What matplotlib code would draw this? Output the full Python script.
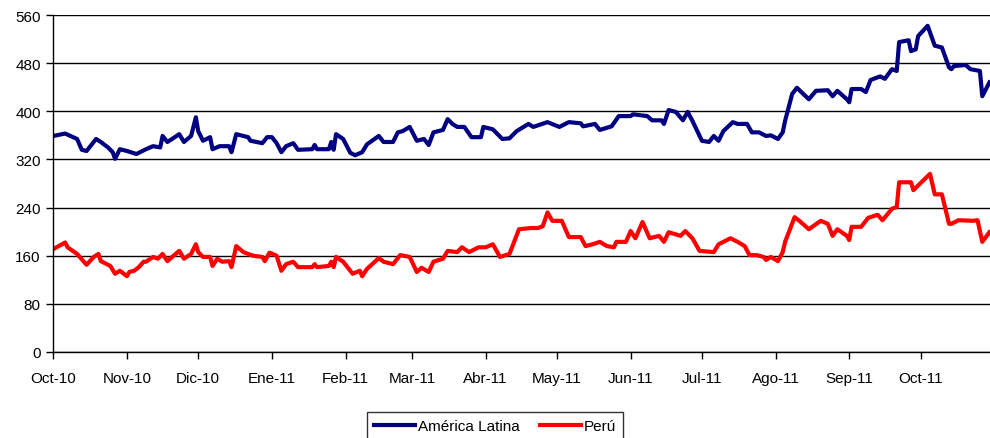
"""EMBI spreads: América Latina vs Perú, Oct-10 to Oct-11."""

import matplotlib

matplotlib.use("Agg")

import matplotlib.dates as mdates
import matplotlib.pyplot as plt
import pandas as pd

plt.rcParams["font.family"] = ["Liberation Sans", "DejaVu Sans"]

month_labels = ["Oct-10", "Nov-10", "Dic-10", "Ene-11", "Feb-11", "Mar-11", "Abr-11",
                "May-11", "Jun-11", "Jul-11", "Ago-11", "Sep-11", "Oct-11"]
y_ticks = [0, 80, 160, 240, 320, 400, 480, 560]

latam_dates = [
    "2010-10-01", "2010-10-06", "2010-10-11", "2010-10-13", "2010-10-15", "2010-10-19",
    "2010-10-21", "2010-10-24", "2010-10-26", "2010-10-27", "2010-10-29", "2010-11-01",
    "2010-11-05", "2010-11-09", "2010-11-12", "2010-11-15", "2010-11-16", "2010-11-18",
    "2010-11-20", "2010-11-23", "2010-11-25", "2010-11-28", "2010-11-30", "2010-12-01",
    "2010-12-03", "2010-12-06", "2010-12-07", "2010-12-10", "2010-12-14", "2010-12-15",
    "2010-12-17", "2010-12-22", "2010-12-23", "2010-12-28", "2010-12-30", "2011-01-01",
    "2011-01-03", "2011-01-05", "2011-01-07", "2011-01-10", "2011-01-12", "2011-01-18",
    "2011-01-19", "2011-01-20", "2011-01-25", "2011-01-26", "2011-01-27", "2011-01-28",
    "2011-01-31", "2011-02-03", "2011-02-05", "2011-02-08", "2011-02-10", "2011-02-15",
    "2011-02-17", "2011-02-21", "2011-02-23", "2011-02-25", "2011-02-28", "2011-03-03",
    "2011-03-06", "2011-03-08", "2011-03-10", "2011-03-14", "2011-03-16", "2011-03-18",
    "2011-03-20", "2011-03-23", "2011-03-26", "2011-03-30", "2011-03-31", "2011-04-04",
    "2011-04-08", "2011-04-11", "2011-04-14", "2011-04-19", "2011-04-21", "2011-04-27",
    "2011-05-02", "2011-05-06", "2011-05-11", "2011-05-12", "2011-05-17", "2011-05-19",
    "2011-05-24", "2011-05-27", "2011-06-01", "2011-06-02", "2011-06-08", "2011-06-10",
    "2011-06-14", "2011-06-15", "2011-06-17", "2011-06-20", "2011-06-23", "2011-06-25",
    "2011-06-27", "2011-07-01", "2011-07-04", "2011-07-06", "2011-07-08", "2011-07-10",
    "2011-07-14", "2011-07-16", "2011-07-20", "2011-07-22", "2011-07-25", "2011-07-28",
    "2011-07-30", "2011-08-02", "2011-08-04", "2011-08-05", "2011-08-08", "2011-08-10",
    "2011-08-15", "2011-08-18", "2011-08-23", "2011-08-25", "2011-08-27", "2011-08-31",
    "2011-09-01", "2011-09-02", "2011-09-06", "2011-09-08", "2011-09-10", "2011-09-14",
    "2011-09-16", "2011-09-19", "2011-09-21", "2011-09-22", "2011-09-26", "2011-09-27",
    "2011-09-29", "2011-09-30", "2011-10-04", "2011-10-07", "2011-10-10", "2011-10-12",
    "2011-10-13", "2011-10-14", "2011-10-15", "2011-10-20", "2011-10-22", "2011-10-26",
    "2011-10-27", "2011-10-30",
]
latam_values = [
    359, 363, 354, 336, 334, 354, 349, 340, 332, 321, 337, 334,
    329, 337, 342, 340, 359, 349, 354, 362, 349, 359, 390, 367,
    351, 357, 337, 342, 342, 332, 362, 357, 351, 347, 357, 357,
    347, 332, 342, 347, 336, 337, 344, 337, 337, 349, 336, 362,
    354, 331, 327, 332, 345, 359, 349, 349, 365, 367, 374, 351,
    354, 344, 365, 369, 387, 379, 374, 374, 357, 357, 374, 370,
    354, 355, 367, 379, 374, 382, 374, 382, 380, 375, 379, 369,
    375, 392, 392, 395, 392, 385, 385, 379, 402, 399, 385, 399,
    384, 351, 349, 359, 351, 367, 382, 379, 379, 365, 365, 359,
    360, 354, 365, 384, 429, 439, 420, 434, 435, 425, 434, 420,
    415, 437, 437, 432, 452, 458, 454, 470, 467, 515, 518, 500,
    503, 525, 542, 509, 506, 484, 473, 470, 475, 477, 470, 467,
    425, 448,
]

peru_dates = [
    "2010-10-01", "2010-10-06", "2010-10-07", "2010-10-11", "2010-10-15", "2010-10-18",
    "2010-10-20", "2010-10-21", "2010-10-25", "2010-10-27", "2010-10-29", "2010-11-01",
    "2010-11-02", "2010-11-04", "2010-11-06", "2010-11-08", "2010-11-09", "2010-11-12",
    "2010-11-14", "2010-11-16", "2010-11-18", "2010-11-20", "2010-11-23", "2010-11-25",
    "2010-11-28", "2010-11-30", "2010-12-01", "2010-12-03", "2010-12-06", "2010-12-07",
    "2010-12-09", "2010-12-11", "2010-12-14", "2010-12-15", "2010-12-17", "2010-12-20",
    "2010-12-24", "2010-12-28", "2010-12-29", "2010-12-31", "2011-01-03", "2011-01-05",
    "2011-01-07", "2011-01-10", "2011-01-12", "2011-01-18", "2011-01-19", "2011-01-20",
    "2011-01-25", "2011-01-26", "2011-01-27", "2011-01-28", "2011-01-31", "2011-02-04",
    "2011-02-07", "2011-02-08", "2011-02-10", "2011-02-15", "2011-02-17", "2011-02-21",
    "2011-02-24", "2011-02-28", "2011-03-03", "2011-03-05", "2011-03-08", "2011-03-10",
    "2011-03-14", "2011-03-16", "2011-03-20", "2011-03-22", "2011-03-25", "2011-03-29",
    "2011-04-01", "2011-04-04", "2011-04-07", "2011-04-11", "2011-04-15", "2011-04-20",
    "2011-04-23", "2011-04-25", "2011-04-27", "2011-04-29", "2011-05-03", "2011-05-06",
    "2011-05-11", "2011-05-13", "2011-05-16", "2011-05-19", "2011-05-22", "2011-05-25",
    "2011-05-26", "2011-05-30", "2011-06-01", "2011-06-03", "2011-06-06", "2011-06-09",
    "2011-06-13", "2011-06-15", "2011-06-17", "2011-06-22", "2011-06-24", "2011-06-27",
    "2011-06-30", "2011-07-06", "2011-07-08", "2011-07-13", "2011-07-16", "2011-07-19",
    "2011-07-21", "2011-07-24", "2011-07-27", "2011-07-28", "2011-07-30", "2011-08-02",
    "2011-08-04", "2011-08-05", "2011-08-09", "2011-08-11", "2011-08-15", "2011-08-20",
    "2011-08-23", "2011-08-25", "2011-08-27", "2011-08-31", "2011-09-01", "2011-09-02",
    "2011-09-06", "2011-09-09", "2011-09-13", "2011-09-15", "2011-09-19", "2011-09-21",
    "2011-09-22", "2011-09-27", "2011-09-28", "2011-10-05", "2011-10-07", "2011-10-10",
    "2011-10-13", "2011-10-14", "2011-10-17", "2011-10-23", "2011-10-25", "2011-10-27",
    "2011-10-30",
]
peru_values = [
    171, 182, 174, 163, 145, 158, 163, 151, 143, 130, 135, 126,
    133, 135, 141, 150, 150, 158, 155, 163, 151, 158, 168, 155,
    163, 179, 166, 158, 158, 143, 155, 150, 151, 141, 176, 166,
    160, 158, 151, 165, 160, 135, 146, 150, 141, 141, 146, 141,
    143, 150, 141, 158, 150, 130, 135, 126, 138, 156, 150, 146,
    161, 158, 133, 140, 133, 150, 155, 168, 166, 174, 166, 174,
    174, 179, 158, 163, 204, 206, 206, 209, 232, 218, 218, 191,
    191, 176, 179, 183, 176, 174, 183, 183, 201, 189, 216, 189,
    193, 183, 199, 193, 201, 189, 168, 166, 179, 189, 183, 176,
    161, 161, 158, 153, 158, 151, 166, 183, 224, 218, 204, 218,
    213, 193, 204, 193, 186, 208, 208, 223, 228, 219, 238, 241,
    282, 282, 269, 296, 262, 262, 213, 213, 219, 218, 219, 183,
    199,
]


def main() -> int:
    fig = plt.figure(figsize=(9.9, 4.39), dpi=100)
    ax = fig.add_axes([53.3 / 990, 1 - 353 / 439, 1 - 53.3 / 990, (353 - 16) / 439])

    ax.plot(pd.to_datetime(latam_dates), latam_values, color="#000080", lw=3.0,
            label="América Latina", solid_joinstyle="round")
    ax.plot(pd.to_datetime(peru_dates), peru_values, color="#ff0000", lw=3.0,
            label="Perú", solid_joinstyle="round")

    ax.set_ylim(0, 560)
    ax.set_yticks(y_ticks)
    ax.yaxis.grid(True, color="black", lw=1.0)
    ax.set_axisbelow(True)

    month_starts = pd.date_range("2010-10-01", periods=len(month_labels), freq="MS")
    ax.set_xticks(month_starts)
    ax.set_xticklabels(month_labels)
    ax.set_xlim(pd.Timestamp("2010-10-01"), pd.Timestamp("2011-10-30 06:00"))

    for side in ("top", "right"):
        ax.spines[side].set_visible(False)
    for side in ("left", "bottom"):
        ax.spines[side].set_linewidth(1.0)
    ax.tick_params(axis="both", direction="out", length=5, width=1.0,
                   labelsize=11, colors="black")
    ax.tick_params(axis="x", pad=9)
    ax.tick_params(axis="y", pad=4)

    leg = fig.legend(loc="upper center", bbox_to_anchor=(495 / 990, 1 - 413 / 439),
                     ncol=2, frameon=True, fancybox=False, fontsize=11,
                     handlelength=2.7, handletextpad=0.2, columnspacing=1.3,
                     borderpad=0.45, borderaxespad=0)
    leg.get_frame().set_edgecolor("black")
    leg.get_frame().set_linewidth(1.0)

    fig.savefig("out.png", dpi=100)
    plt.close(fig)
    return 0


if __name__ == "__main__":
    raise SystemExit(main())
